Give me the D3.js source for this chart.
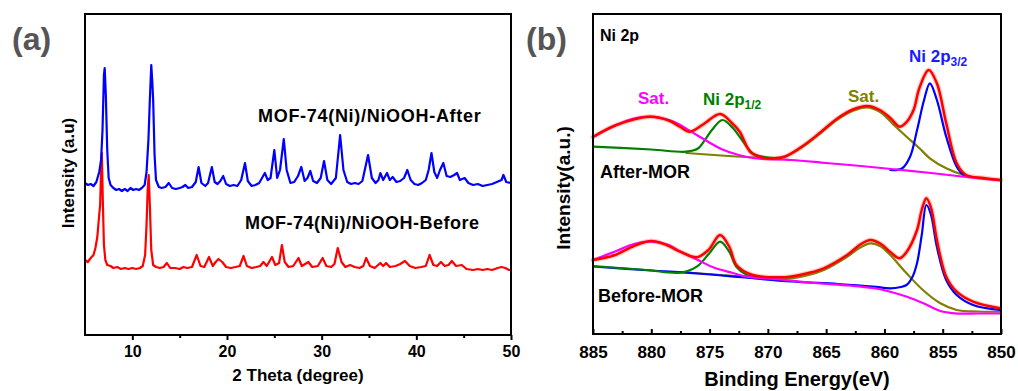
<!DOCTYPE html>
<html>
<head>
<meta charset="utf-8">
<script src="https://cdn.jsdelivr.net/npm/d3@7"></script>
<style>
  body { margin: 0; background: #fff; }
  svg text { font-family: "Liberation Sans", Arial, sans-serif; font-weight: bold; }
</style>
</head>
<body>
<svg id="chart" width="1018" height="391"></svg>
<script>
"use strict";

// ---- (a) XRD, [2theta, intensity a.u.] ----
const xrdAfter = [
  [5.0,152],[5.3,150],[5.6,151],[5.9,149],[6.2,153],[6.5,163],[6.7,175],[6.85,205],[7.0,260],[7.08,267],
  [7.2,240],[7.35,185],[7.5,157],[7.7,150],[8.0,147],[8.3,145],[8.6,146],[8.9,144],[9.2,146],[9.5,144],
  [9.8,147],[10.1,145],[10.4,146],[10.7,145],[11.0,147],[11.3,150],[11.5,163],[11.7,195],[11.85,235],[12.0,270],
  [12.1,255],[12.2,235],[12.35,180],[12.5,155],[12.8,148],[13.1,147],[13.5,148],[13.85,152],[14.2,147],[14.6,146],
  [15.0,147],[15.3,148],[15.6,150],[15.9,147],[16.3,148],[16.7,153],[17.0,168],[17.3,152],[17.7,149],[18.0,152],
  [18.4,168],[18.7,153],[19.0,151],[19.3,154],[19.6,159],[19.9,151],[20.3,149],[20.7,150],[21.1,149],[21.5,155],
  [21.9,172],[22.2,154],[22.6,149],[23.0,150],[23.4,152],[23.7,157],[24.0,162],[24.3,155],[24.6,157],[25.0,185],
  [25.3,157],[25.6,165],[26.0,196],[26.3,165],[26.7,152],[27.1,153],[27.5,159],[27.85,168],[28.2,154],[28.5,157],
  [28.8,164],[29.1,154],[29.5,152],[29.9,157],[30.25,174],[30.6,155],[31.0,151],[31.5,157],[31.95,200],[32.3,165],
  [32.7,153],[33.1,151],[33.5,152],[33.9,151],[34.3,154],[34.9,180],[35.3,157],[35.7,152],[36.0,155],[36.2,162],
  [36.5,155],[36.9,162],[37.2,155],[37.5,158],[37.9,153],[38.3,154],[38.7,157],[39.05,165],[39.4,155],[39.8,151],
  [40.2,150],[40.6,152],[41.0,155],[41.3,165],[41.6,182],[41.9,163],[42.2,157],[42.5,165],[42.85,172],[43.2,159],
  [43.6,158],[44.0,160],[44.3,162],[44.6,155],[45.1,157],[45.5,152],[46.0,150],[46.5,151],[47.0,149],[47.5,150],
  [48.0,151],[48.5,153],[49.0,155],[49.2,160],[49.5,153],[50.0,152]
];
const xrdBefore = [
  [5.0,75],[5.3,73],[5.6,77],[5.9,80],[6.1,87],[6.3,98],[6.5,120],[6.6,130],[6.7,165],[6.78,182],
  [6.88,135],[7.0,90],[7.15,75],[7.35,70],[7.7,69],[8.0,67],[8.4,68],[8.8,66],[9.2,67],[9.6,66],
  [10.0,67],[10.4,66],[10.8,67],[11.1,69],[11.35,80],[11.5,110],[11.62,145],[11.73,160],[11.85,130],[12.0,85],
  [12.2,70],[12.5,68],[12.9,67],[13.3,68],[13.65,72],[14.0,67],[14.5,67],[15.0,66],[15.4,68],[15.8,67],
  [16.3,68],[16.8,80],[17.2,69],[17.6,68],[18.1,78],[18.5,69],[18.8,73],[19.1,76],[19.5,73],[19.9,68],
  [20.4,67],[20.9,68],[21.35,69],[21.75,79],[22.1,69],[22.6,67],[23.1,68],[23.5,69],[23.85,73],[24.2,69],
  [24.75,78],[25.1,70],[25.5,72],[25.8,90],[26.1,73],[26.5,68],[27.0,69],[27.55,77],[27.9,69],[28.6,73],
  [29.0,68],[29.6,69],[30.1,77],[30.5,69],[31.0,68],[31.35,71],[31.7,87],[32.1,73],[32.5,68],[33.0,70],
  [33.5,68],[34.0,67],[34.4,69],[34.7,77],[35.1,69],[35.6,67],[36.2,72],[36.5,69],[36.8,72],[37.2,68],
  [37.8,69],[38.3,71],[38.8,74],[39.3,69],[39.9,67],[40.5,68],[41.0,69],[41.4,80],[41.8,70],[42.2,69],
  [42.6,73],[43.0,69],[43.4,70],[43.75,74],[44.2,69],[44.8,70],[45.3,66],[46.0,65],[46.5,66],[47.0,65],
  [47.5,66],[48.0,65],[48.6,67],[49.0,68],[49.4,67],[49.8,65],[50.0,65]
];
const xrdTicks = [10, 20, 30, 40, 50];
const xrdMinor = [15, 25, 35, 45];

// ---- (b) XPS Ni 2p, [binding energy eV, intensity a.u.] ----
const afterEnv = [
  [885,197],[883,209],[880.1,217.3],[878.5,213.5],[877.5,207],[876.7,202.3],[875.5,210],[874.1,220],[873,210],
  [872.4,202],[871.5,182],[870.5,176.5],[869.5,175.5],[868.5,177.5],[867,188],[865.5,201.5],[864.1,215],
  [862.7,224.5],[861.5,228],[860.4,224],[859.5,216],[858.7,207.3],[858.1,212],[857.5,224],[857,246],
  [856.2,264],[855.5,250.7],[854.7,210.7],[853.8,170.7],[853,159],[851.5,156],[850,154]
];
const afterSatA = [
  [885,197],[883,209],[881.5,215.5],[880.1,217.3],[878.5,214],[877.8,210.7],[876.1,199],[874,185],[872.5,179],
  [871,175.5],[868,174],[865,171],[862,168],[859,164.5],[856,161],[853,157],[850,153.5]
];
const after2p12 = [
  [885,187.3],[880,184.5],[877,182.3],[876,185.5],[875.5,192.3],[874.8,204],[873.9,214],[873,206],
  [872.4,197],[871.3,180.7],[870.3,177],[869.5,176]
];
const afterSatB = [
  [877,181],[874,178.5],[871,176.5],[869.5,176],[868.5,177.5],[867,187.3],[865.5,200.7],[864.1,214],
  [862.7,223.3],[861.5,226.7],[860.4,222.3],[859.1,208],[858.1,197.3],[857,185.7],[856.1,175.7],[854.7,165.7],
  [853.2,159],[852,156],[850,154]
];
const after2p32 = [
  [859.5,164],[858.5,165.5],[857.8,177.3],[857.2,204],[856.6,234],[856.1,250.7],[855.5,234],[854.7,197.3],
  [853.8,167.3],[853.2,159],[852.5,157]
];

const beforeEnv = [
  [885,74],[883.1,79],[881.5,88],[880,93],[878.7,89],[877.5,82.3],[876.1,76.7],[875.1,84],[874.1,99],[873.3,87],
  [872.7,69],[871.3,59],[869,56.7],[868.1,57.3],[866.5,61],[865.2,65.7],[863.2,79],[862,90],[861.2,94],[860.3,90],
  [859.5,82],[858.7,75.7],[858.1,82],[857.2,104],[856.8,124],[856.4,135.7],[856,126],[855.5,94],[854.7,57.3],
  [853.8,42.3],[852.4,32.3],[850.1,25.7]
];
const beforeSatA = [
  [885,74],[883,83],[881.5,90],[880,92.3],[878.5,89],[877.5,82.3],[876,74],[874.7,66.7],[873,61],[871.8,57.3],
  [869,54.7],[866,51],[863,48.5],[861,46],[859.5,42.3],[858,37],[856.7,31],[855.2,23],[854,20.7],[852,20.5],[850,20.5]
];
const before2p12 = [
  [885,68],[880.4,64],[877.5,61.3],[876.1,67.3],[875,81],[874.1,92.3],[873.3,82],[872.7,67.3],[871.8,59],
  [870.5,56],[869,55.5]
];
const beforeSatB = [
  [877.5,62],[874,59],[871,56.5],[868.1,55.7],[866.5,59],[865.2,64],[863.2,77.3],[862,87],[861.2,90.7],
  [860.3,87.5],[859.5,79],[858.1,60.7],[856.7,44],[855.2,30.7],[853.8,24],[852,22.5],[850,22.3]
];
const before2p32 = [
  [885,67.5],[880,63.5],[876,60.5],[872,56.5],[868,52.5],[864,50],[861,47.5],[859.5,45.7],[858.6,47],[858.1,49],
  [857.6,57],[857.2,71],[856.8,99],[856.4,129],[856,119],[855.5,87.3],[854.7,54],[853.8,39],[852.4,29],[850.1,24]
];
const xpsTicks = [885, 880, 875, 870, 865, 860, 855, 850];
const xpsMinor = [882.5, 877.5, 872.5, 867.5, 862.5, 857.5, 852.5];

const svg = d3.select("#chart");

// ================= panel (a) =================
const xA = d3.scaleLinear().domain([5, 50]).range([85, 511]);
const yA = d3.scaleLinear().domain([0, 321]).range([335, 14]);
const lineA = d3.line().x(d => xA(d[0])).y(d => yA(d[1]));

const gA = svg.append("g");
gA.append("path").datum(xrdBefore)
  .attr("d", lineA).attr("fill", "none").attr("stroke", "#ff0000").attr("stroke-width", 2.2)
  .attr("stroke-linejoin", "round");
gA.append("path").datum(xrdAfter)
  .attr("d", lineA).attr("fill", "none").attr("stroke", "#0000ff").attr("stroke-width", 2.2)
  .attr("stroke-linejoin", "round");

gA.append("rect")
  .attr("x", 85).attr("y", 14).attr("width", 426).attr("height", 321)
  .attr("fill", "none").attr("stroke", "#000").attr("stroke-width", 2);

const axA = gA.append("g").attr("transform", "translate(0,335)")
  .call(d3.axisBottom(xA).tickValues(xrdTicks).tickSize(5).tickPadding(6));
axA.select(".domain").remove();
axA.selectAll("line").attr("stroke-width", 2);
axA.selectAll("text").attr("font-size", 16).attr("fill", "#000")
  .style("font-family", "Liberation Sans, Arial, sans-serif").style("font-weight", "bold");
const axAm = gA.append("g").attr("transform", "translate(0,335)")
  .call(d3.axisBottom(xA).tickValues(xrdMinor).tickSize(3).tickFormat(""));
axAm.select(".domain").remove();
axAm.selectAll("line").attr("stroke-width", 2);

gA.append("text").attr("x", 298).attr("y", 381).attr("text-anchor", "middle")
  .attr("font-size", 17).text("2 Theta (degree)");
gA.append("text").attr("transform", "translate(74,173) rotate(-90)").attr("text-anchor", "middle")
  .attr("font-size", 17).text("Intensity (a.u)");
gA.append("text").attr("x", 12).attr("y", 50).attr("font-size", 32).attr("fill", "#555").text("(a)");
gA.append("text").attr("x", 258).attr("y", 122).attr("font-size", 18).attr("letter-spacing", 0.7)
  .text("MOF-74(Ni)/NiOOH-After");
gA.append("text").attr("x", 245).attr("y", 229).attr("font-size", 18).attr("letter-spacing", 0.5)
  .text("MOF-74(Ni)/NiOOH-Before");

// ================= panel (b) =================
const xB = d3.scaleLinear().domain([885, 850]).range([593, 1001]);
const yB = d3.scaleLinear().domain([0, 320]).range([334, 14]);
const lineB = d3.line().x(d => xB(d[0])).y(d => yB(d[1])).curve(d3.curveCatmullRom.alpha(0.5));

const gB = svg.append("g");
const curves = [
  [afterEnv, "#fbcfc6", 5],
  [beforeEnv, "#fbcfc6", 5],
  [afterSatB, "#808000", 2.2],
  [beforeSatB, "#808000", 2.2],
  [after2p32, "#0000ff", 2.2],
  [before2p32, "#0000ff", 2.2],
  [after2p12, "#008000", 2.2],
  [before2p12, "#008000", 2.2],
  [afterSatA, "#ff00ff", 2.2],
  [beforeSatA, "#ff00ff", 2.2],
  [afterEnv, "#ff0000", 2.5],
  [beforeEnv, "#ff0000", 2.5]
];
gB.selectAll("path.fit").data(curves).enter().append("path")
  .attr("class", "fit")
  .attr("d", d => lineB(d[0]))
  .attr("fill", "none")
  .attr("stroke", d => d[1])
  .attr("stroke-width", d => d[2])
  .attr("stroke-linecap", "round");

gB.append("rect")
  .attr("x", 593).attr("y", 14).attr("width", 408).attr("height", 320)
  .attr("fill", "none").attr("stroke", "#000").attr("stroke-width", 2);

const axB = gB.append("g").attr("transform", "translate(0,334)")
  .call(d3.axisBottom(xB).tickValues(xpsTicks).tickSize(-5).tickPadding(12));
axB.select(".domain").remove();
axB.selectAll("line").attr("stroke-width", 2);
axB.selectAll("text").attr("font-size", 17).attr("fill", "#000")
  .style("font-family", "Liberation Sans, Arial, sans-serif").style("font-weight", "bold");
const axBm = gB.append("g").attr("transform", "translate(0,334)")
  .call(d3.axisBottom(xB).tickValues(xpsMinor).tickSize(-3).tickFormat(""));
axBm.select(".domain").remove();
axBm.selectAll("line").attr("stroke-width", 2);

gB.append("text").attr("x", 797).attr("y", 386).attr("text-anchor", "middle")
  .attr("font-size", 20).text("Binding Energy(eV)");
gB.append("text").attr("transform", "translate(570,188) rotate(-90)").attr("text-anchor", "middle")
  .attr("font-size", 19).text("Intensity(a.u.)");
gB.append("text").attr("x", 526).attr("y", 50).attr("font-size", 32).attr("fill", "#555").text("(b)");
gB.append("text").attr("x", 600).attr("y", 41).attr("font-size", 16).text("Ni 2p");
gB.append("text").attr("x", 600).attr("y", 178).attr("font-size", 18).text("After-MOR");
gB.append("text").attr("x", 598).attr("y", 302).attr("font-size", 18).text("Before-MOR");

gB.append("text").attr("x", 638).attr("y", 104).attr("font-size", 17).attr("fill", "#ff00ff").text("Sat.");
gB.append("text").attr("x", 848).attr("y", 102).attr("font-size", 17).attr("fill", "#808000").text("Sat.");
const p12 = gB.append("text").attr("x", 703).attr("y", 105).attr("font-size", 17).attr("fill", "#008000");
p12.append("tspan").text("Ni 2p");
p12.append("tspan").attr("font-size", 12).attr("dy", 4).text("1/2");
const p32 = gB.append("text").attr("x", 909).attr("y", 62).attr("font-size", 17).attr("fill", "#1a1aff");
p32.append("tspan").text("Ni 2p");
p32.append("tspan").attr("font-size", 12).attr("dy", 4).text("3/2");
</script>
</body>
</html>
